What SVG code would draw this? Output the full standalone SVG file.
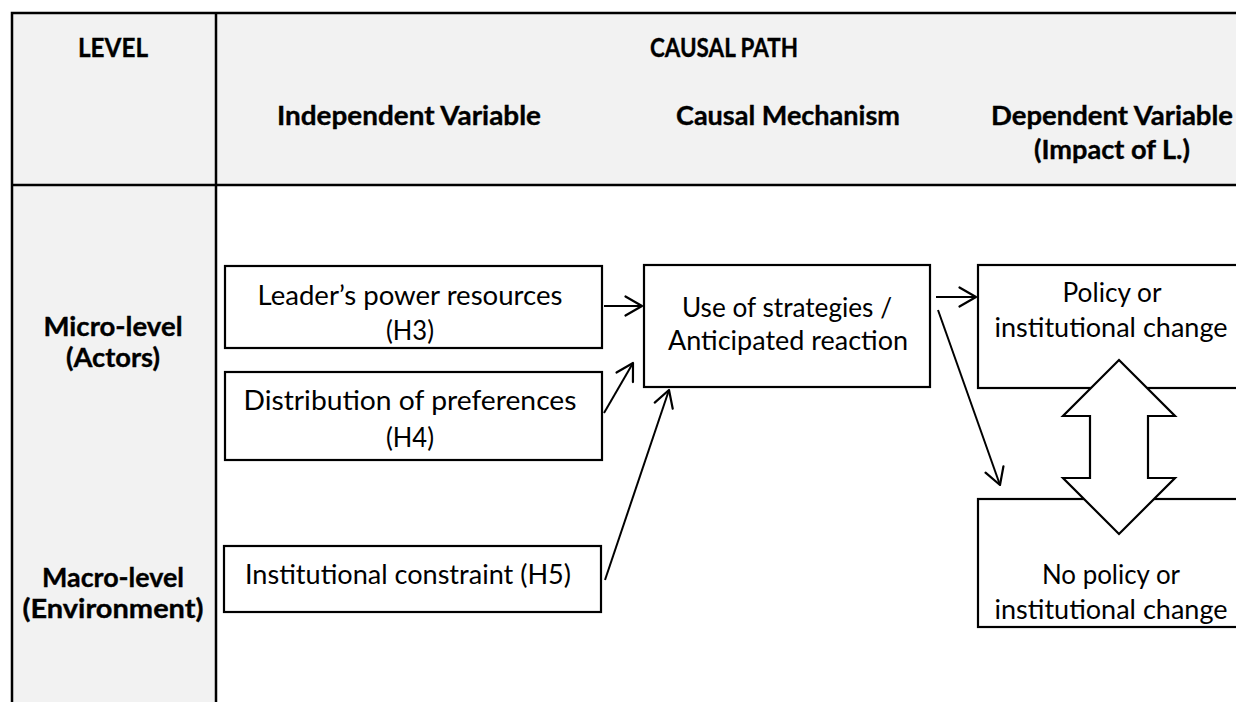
<svg xmlns="http://www.w3.org/2000/svg" width="1236" height="702" viewBox="0 0 1236 702">
  <style>
    .grid { stroke: #000; stroke-width: 2.5; fill: none; }
    .shade { fill: #f2f2f2; }
    .box { fill: #fff; stroke: #000; stroke-width: 2.2; }
    .hd { font-family: Lato, "Liberation Sans", sans-serif; font-weight: bold; font-size: 26px; fill: #000; stroke: #000; stroke-width: 0.35; text-anchor: middle; }
    .tx { font-family: Lato, "Liberation Sans", sans-serif; font-size: 26px; fill: #000; text-anchor: middle; }
    .link { stroke: #000; stroke-width: 2; fill: none; marker-end: url(#open); }
  </style>
  <defs>
    <marker id="open" markerUnits="userSpaceOnUse" markerWidth="20" markerHeight="22" refX="18" refY="11" orient="auto">
      <path d="M1.5,1.5 L18,11 L1.5,20.5" fill="none" stroke="#000" stroke-width="2.2" stroke-linejoin="round" stroke-linecap="round"/>
    </marker>
  </defs>

  <rect width="1236" height="702" fill="#fff"/>

  <!-- table frame: shaded header row and level column -->
  <g id="table">
    <rect class="shade" x="12" y="13" width="1230" height="172"/>
    <rect class="shade" x="12" y="185" width="204" height="520"/>
    <path class="grid" d="M12,705 V13 H1240 M216,13 V705 M12,185 H1240"/>
  </g>

  <g id="header">
    <text class="hd" x="113" y="57" textLength="70" lengthAdjust="spacingAndGlyphs">LEVEL</text>
    <text class="hd" x="724" y="57" textLength="148" lengthAdjust="spacingAndGlyphs">CAUSAL PATH</text>
    <text class="hd" x="409" y="125" textLength="264" lengthAdjust="spacingAndGlyphs">Independent Variable</text>
    <text class="hd" x="788" y="125" textLength="224" lengthAdjust="spacingAndGlyphs">Causal Mechanism</text>
    <text class="hd" x="1112" y="125" textLength="242" lengthAdjust="spacingAndGlyphs">Dependent Variable</text>
    <text class="hd" x="1112" y="159" textLength="156" lengthAdjust="spacingAndGlyphs">(Impact of L.)</text>
  </g>

  <g id="levels">
    <text class="hd" x="113" y="336" textLength="139" lengthAdjust="spacingAndGlyphs">Micro-level</text>
    <text class="hd" x="113" y="367" textLength="94" lengthAdjust="spacingAndGlyphs">(Actors)</text>
    <text class="hd" x="113" y="587" textLength="142" lengthAdjust="spacingAndGlyphs">Macro-level</text>
    <text class="hd" x="113" y="618" textLength="181" lengthAdjust="spacingAndGlyphs">(Environment)</text>
  </g>

  <g id="power">
    <rect class="box" x="225" y="266" width="377" height="82"/>
    <text class="tx" x="410" y="305" textLength="305" lengthAdjust="spacingAndGlyphs">Leader’s power resources</text>
    <text class="tx" x="410" y="340" textLength="48" lengthAdjust="spacingAndGlyphs">(H3)</text>
  </g>

  <g id="preferences">
    <rect class="box" x="225" y="372" width="377" height="88"/>
    <text class="tx" x="410" y="410" textLength="333" lengthAdjust="spacingAndGlyphs">Distribution of preferences</text>
    <text class="tx" x="410" y="447" textLength="48" lengthAdjust="spacingAndGlyphs">(H4)</text>
  </g>

  <g id="constraint">
    <rect class="box" x="224" y="546" width="377" height="66"/>
    <text class="tx" x="408" y="584" textLength="326" lengthAdjust="spacingAndGlyphs">Institutional constraint (H5)</text>
  </g>

  <g id="mechanism">
    <rect class="box" x="644" y="265" width="286" height="122"/>
    <text class="tx" x="787" y="317" textLength="210" lengthAdjust="spacingAndGlyphs">Use of strategies /</text>
    <text class="tx" x="788" y="350" textLength="240" lengthAdjust="spacingAndGlyphs">Anticipated reaction</text>
  </g>

  <g id="change">
    <rect class="box" x="978" y="265" width="270" height="123"/>
    <text class="tx" x="1112" y="302" textLength="99" lengthAdjust="spacingAndGlyphs">Policy or</text>
    <text class="tx" x="1111" y="337" textLength="233" lengthAdjust="spacingAndGlyphs">institutional change</text>
  </g>

  <g id="no-change">
    <rect class="box" x="978" y="499" width="270" height="128"/>
    <text class="tx" x="1111" y="584" textLength="138" lengthAdjust="spacingAndGlyphs">No policy or</text>
    <text class="tx" x="1111" y="619" textLength="233" lengthAdjust="spacingAndGlyphs">institutional change</text>
  </g>

  <!-- two-headed block arrow between the outcomes -->
  <g id="either-way">
    <polygon points="1119,360 1175,416 1148,416 1148,478 1175,478 1119,534 1063,478 1090,478 1090,416 1063,416" fill="#fff" stroke="#000" stroke-width="2.2" stroke-linejoin="miter"/>
  </g>

  <g id="connectors">
    <line class="link" x1="604" y1="306" x2="642" y2="306"/>
    <line class="link" x1="604" y1="413" x2="633" y2="363"/>
    <line class="link" x1="605" y1="580" x2="669" y2="390"/>
    <line class="link" x1="936" y1="297" x2="976" y2="297"/>
    <line class="link" x1="938" y1="310" x2="1000" y2="485"/>
  </g>
</svg>
